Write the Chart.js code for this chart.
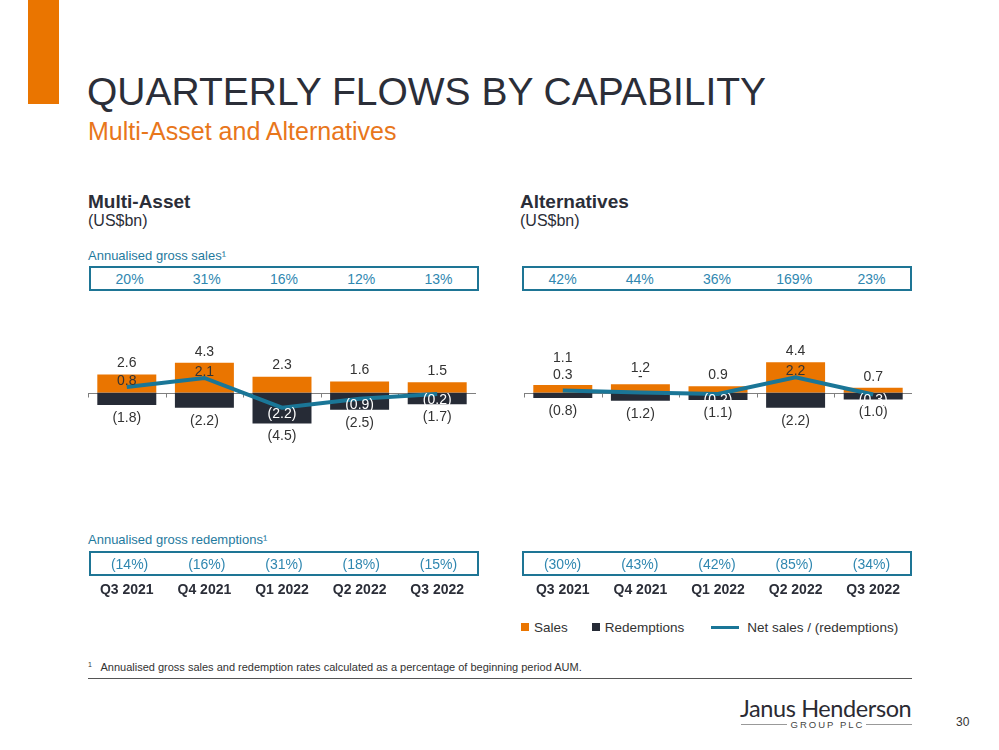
<!DOCTYPE html>
<html>
<head>
<meta charset="utf-8">
<script src="https://cdn.jsdelivr.net/npm/chart.js@4.4.0/dist/chart.umd.min.js"></script>
<style>
body { margin: 0; width: 999px; height: 750px; position: relative; background: #fff; overflow: hidden;
       font-family: "Liberation Sans", Arial, sans-serif; color: #333; }
.abs { position: absolute; white-space: nowrap; }
.rate { position: absolute; height: 25px; box-sizing: border-box; border: 2px solid #1e7595;
        display: flex; align-items: center; color: #2f87b0; font-size: 14px; }
.rate span { flex: 1; text-align: center; }
.teal { color: #1f7a9e; font-size: 13px; }
canvas { position: absolute; }
.legend { position: absolute; left: 521px; top: 619px; height: 16px; display: flex; align-items: center; font-size: 13.5px; color: #333; }
.legend i { display: inline-block; width: 8px; height: 8px; margin-right: 5px; }
</style>
</head>
<body>

<div class="abs" style="left:28px;top:0;width:31px;height:104px;background:#ea7500"></div>
<div class="abs" style="left:87px;top:72px;font-size:39px;line-height:40px;color:#2b2e38">QUARTERLY FLOWS BY CAPABILITY</div>
<div class="abs" style="left:88px;top:117px;font-size:25px;line-height:28px;color:#e8761b">Multi-Asset and Alternatives</div>

<div class="abs" style="left:88px;top:191px;font-size:19px;line-height:22px;font-weight:bold;color:#2b2e38">Multi-Asset</div>
<div class="abs" style="left:88px;top:211px;font-size:16px;line-height:20px;color:#2b2e38">(US$bn)</div>
<div class="abs" style="left:520px;top:191px;font-size:19px;line-height:22px;font-weight:bold;color:#2b2e38">Alternatives</div>
<div class="abs" style="left:520px;top:211px;font-size:16px;line-height:20px;color:#2b2e38">(US$bn)</div>

<div class="abs teal" style="left:88px;top:248px;line-height:16px">Annualised gross sales¹</div>
<div class="abs teal" style="left:88px;top:532px;line-height:16px">Annualised gross redemptions¹</div>

<canvas id="maChart" width="388" height="303" style="left:88px;top:300px"></canvas>
<canvas id="altChart" width="388" height="303" style="left:524px;top:300px"></canvas>

<div class="rate" id="maSalesBox" style="left:89px;top:266px;width:390px"></div>
<div class="rate" id="altSalesBox" style="left:522px;top:266px;width:390px"></div>
<div class="rate" id="maRedBox" style="left:89px;top:551px;width:390px"></div>
<div class="rate" id="altRedBox" style="left:522px;top:551px;width:390px"></div>

<div class="legend">
  <i style="background:#ea7500"></i><span style="margin-right:24px">Sales</span>
  <i style="background:#262b36"></i><span style="margin-right:27px">Redemptions</span>
  <i style="width:28px;height:3px;background:#1a7697;margin-right:8px"></i><span>Net sales / (redemptions)</span>
</div>

<div class="abs" style="left:88px;top:658px;font-size:11px;line-height:13px;color:#333"><sup style="font-size:7px;vertical-align:4px">1</sup>&nbsp;&nbsp; Annualised gross sales and redemption rates calculated as a percentage of beginning period AUM.</div>
<div class="abs" style="left:88px;top:678px;width:824px;height:1px;background:#555"></div>

<div class="abs" style="left:740px;top:694px;font-family:Lato,sans-serif;font-size:23.5px;line-height:28px;color:#2b2b33;letter-spacing:-0.4px">Janus Henderson</div>
<div class="abs" style="left:741px;top:718px;width:171px;height:12px;display:flex;align-items:center;font-size:9.5px;color:#444;letter-spacing:2px">
  <span style="flex:1;height:1px;background:#999"></span><span style="padding:0 2px 0 4px">GROUP PLC</span><span style="flex:1;height:1px;background:#999"></span>
</div>
<div class="abs" style="left:956px;top:714px;font-size:12px;line-height:16px;color:#333">30</div>

<script>
// quarters shown on both panels
const quarters = ['Q3 2021', 'Q4 2021', 'Q1 2022', 'Q2 2022', 'Q3 2022'];

// Multi-Asset (US$bn)
const maSales = [2.6, 4.3, 2.3, 1.6, 1.5];
const maRedemptions = [-1.8, -2.2, -4.5, -2.5, -1.7];
const maNet = [0.8, 2.1, -2.2, -0.9, -0.2];
const maSalesRate = [20, 31, 16, 12, 13];
const maRedemptionRate = [14, 16, 31, 18, 15];

// Alternatives (US$bn)
const altSales = [1.1, 1.2, 0.9, 4.4, 0.7];
const altRedemptions = [-0.8, -1.2, -1.1, -2.2, -1.0];
const altNet = [0.3, 0.0, -0.2, 2.2, -0.3];
const altSalesRate = [42, 44, 36, 169, 23];
const altRedemptionRate = [30, 43, 42, 85, 34];

const ORANGE = '#ea7500';
const NAVY = '#262b36';
const TEAL = '#1a7697';
const FONT = '"Liberation Sans", Arial, sans-serif';

// rate boxes
function fillRates(id, rates, negative) {
    document.getElementById(id).innerHTML = rates
        .map(r => `<span>${negative ? '(' + r + '%)' : r + '%'}</span>`).join('');
}
fillRates('maSalesBox', maSalesRate, false);
fillRates('altSalesBox', altSalesRate, false);
fillRates('maRedBox', maRedemptionRate, true);
fillRates('altRedBox', altRedemptionRate, true);

const fmt = v => v === 0 ? '-' : v < 0 ? `(${Math.abs(v).toFixed(1)})` : v.toFixed(1);

// zero line with category ticks + value labels
const flowLabels = {
    id: 'flowLabels',
    beforeDatasetsDraw(chart) {
        const { ctx, chartArea, scales } = chart;
        const y0 = Math.round(scales.y.getPixelForValue(0)) + 0.5;
        const n = chart.data.labels.length;
        const w = (chartArea.right - chartArea.left) / n;
        ctx.save();
        ctx.strokeStyle = '#7f7f7f';
        ctx.lineWidth = 1;
        ctx.beginPath();
        ctx.moveTo(chartArea.left, y0);
        ctx.lineTo(chartArea.right, y0);
        for (let i = 0; i <= n; i++) {
            const x = Math.round(chartArea.left + i * w) + 0.5;
            ctx.moveTo(x, y0);
            ctx.lineTo(x, y0 + 4);
        }
        ctx.stroke();
        ctx.restore();
    },
    afterDatasetsDraw(chart) {
        const ctx = chart.ctx;
        const sets = {};
        chart.data.datasets.forEach((ds, di) => {
            sets[ds.label] = { data: ds.data, els: chart.getDatasetMeta(di).data };
        });
        const text = (t, x, y, c) => { ctx.fillStyle = c; ctx.fillText(t, x, y); };
        ctx.save();
        ctx.font = '14px ' + FONT;
        ctx.textAlign = 'center';
        ctx.textBaseline = 'middle';
        sets.Sales.els.forEach((bar, i) => {
            const net = sets.Net.data[i];
            const pt = sets.Net.els[i];
            const red = sets.Redemptions.els[i];
            let netY, salesY;
            // short sales bar: stack the net label above it, sales label above that
            if (net >= 0 && bar.base - bar.y < 14) {
                netY = bar.y - (net === 0 ? 7 : 10);
                salesY = netY - (net === 0 ? 9 : 17);
            } else {
                netY = net > 0 ? pt.y - 6 : pt.y + 6;
                salesY = bar.y - 11;
            }
            text(fmt(sets.Sales.data[i]), bar.x, salesY, '#333');
            text(fmt(sets.Redemptions.data[i]), red.x, red.y + 13, '#333');
            text(fmt(net), pt.x, netY, net < 0 ? '#fff' : '#333');
        });
        ctx.restore();
    }
};

function flowChart(id, sales, redemptions, net) {
    return new Chart(document.getElementById(id), {
        type: 'bar',
        data: {
            labels: quarters,
            datasets: [
                { type: 'line', label: 'Net', data: net, borderColor: TEAL, borderWidth: 4,
                  pointRadius: 0, tension: 0, order: 0, stack: 'net' },
                { label: 'Sales', data: sales, backgroundColor: ORANGE, order: 1, stack: 'flows' },
                { label: 'Redemptions', data: redemptions, backgroundColor: NAVY, order: 1, stack: 'flows' }
            ]
        },
        options: {
            responsive: false,
            animation: false,
            layout: { padding: 0 },
            datasets: { bar: { barPercentage: 0.76, categoryPercentage: 1 } },
            plugins: { legend: { display: false }, tooltip: { enabled: false } },
            scales: {
                x: {
                    stacked: true,
                    grid: { display: false, drawTicks: false },
                    border: { display: false },
                    ticks: { color: '#2b2e38', padding: 4, maxRotation: 0,
                             font: { family: FONT, size: 14, weight: 'bold' } }
                },
                y: { stacked: true, display: false, min: -26.9, max: 13.4 }
            }
        },
        plugins: [flowLabels]
    });
}

flowChart('maChart', maSales, maRedemptions, maNet);
flowChart('altChart', altSales, altRedemptions, altNet);
</script>
</body>
</html>
